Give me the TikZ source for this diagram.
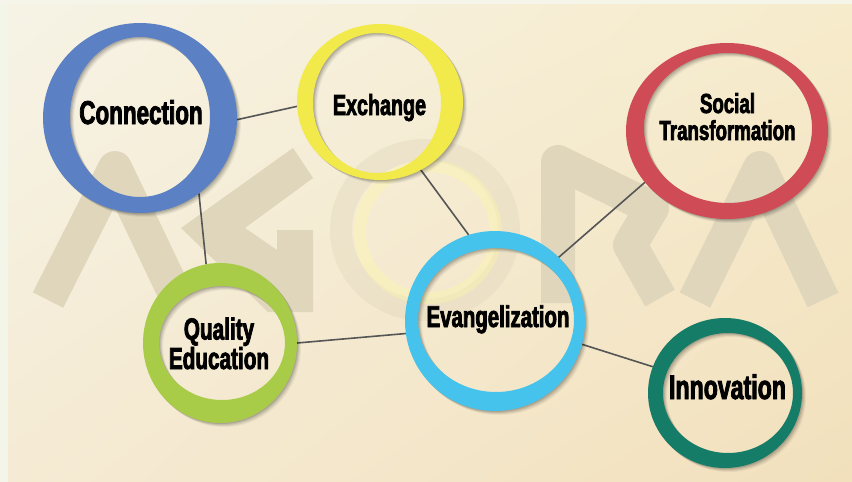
\documentclass[tikz,border=0pt]{standalone}
\usepackage{fontspec}
\usetikzlibrary{shapes.geometric,shadings}
\newfontfamily\lblfont{Liberation Sans}[FakeStretch=0.68,BoldFeatures={FakeBold=2.5}]
\definecolor{bgUL}{HTML}{F6F3E6}
\definecolor{bgUR}{HTML}{F6EBCB}
\definecolor{bgLL}{HTML}{F5EBD4}
\definecolor{bgLR}{HTML}{F2E0BC}
\definecolor{edgeL}{HTML}{F4F5E9}
\definecolor{edgeT}{HTML}{F6F5EA}
\definecolor{wmc}{HTML}{DFD6BC}
\definecolor{cblue}{HTML}{5B80C4}
\definecolor{cyellow}{HTML}{F2EA4A}
\definecolor{cred}{HTML}{CF4B56}
\definecolor{cgreen}{HTML}{A9CC48}
\definecolor{ccyan}{HTML}{45C3EC}
\definecolor{cteal}{HTML}{157C68}
\definecolor{lgray}{HTML}{555555}
\newcommand\myring[9]{%
  \foreach \s/\op in {4/0.05,3/0.07,2/0.09,1/0.11}{
    \fill[black,opacity=\op,even odd rule] (#2+\s,#3+\s) ellipse[x radius=#4pt,y radius=#5pt] (#6+\s,#7+\s) ellipse[x radius=#8pt,y radius=#9pt];}
  \fill[#1,even odd rule] (#2,#3) ellipse[x radius=#4pt,y radius=#5pt] (#6,#7) ellipse[x radius=#8pt,y radius=#9pt];
}
\tikzset{
  wm/.style={draw=wmc,line width=34pt,line join=round,line cap=butt},
  conline/.style={draw=lgray,line width=1.6pt},
  hub/.style={ellipse,inner sep=0pt,outer sep=0pt},
  lbl/.style={text=black,inner sep=0pt,align=center}
}
\begin{document}
\begin{tikzpicture}[x=1pt,y=-1pt]
\useasboundingbox (0,0) rectangle (852,482);
% background
\shade[upper left=bgUL,upper right=bgUR,lower left=bgLL,lower right=bgLR] (0,0) rectangle (852,482);
\fill[edgeL] (0,0) rectangle (8,482);
\fill[edgeT] (0,0) rectangle (852,4);
% watermark AGORA
\draw[wm] (48,300) -- (115,168) -- (178,300);
\fill[wmc] (181,228) -- (293,148) -- (313,178) -- (245,228) -- (277,250) -- (277,230)
  -- (313,230) -- (313,312) -- (268,312) -- cycle;
\draw[draw=wmc,line width=22pt,opacity=0.38] (425,230) ellipse[x radius=84pt,y radius=80pt];
\draw[draw=yellow!35,line width=12pt,opacity=0.35] (428,232) ellipse[x radius=68pt,y radius=66pt];
\draw[wm] (558,303) -- (558,162) -- (652,208) -- (630,245) -- (660,298);
\draw[wm] (695,300) -- (760,168) -- (823,300);
% hub nodes (outer rings)
\node[hub,minimum width=194pt,minimum height=190pt] (conn) at (140,118) {};
\node[hub,minimum width=166pt,minimum height=156pt] (exch) at (380,102) {};
\node[hub,minimum width=202pt,minimum height=176pt] (soc) at (727,131) {};
\node[hub,minimum width=154pt,minimum height=160pt] (qual) at (220,343) {};
\node[hub,minimum width=180pt,minimum height=180pt] (evan) at (495,321) {};
\node[hub,minimum width=154pt,minimum height=150pt] (inno) at (725,393) {};
% connectors
\draw[conline] (conn.-1) -- (exch.183);
\draw[conline] (conn.-52) -- (qual.100);
\draw[conline] (exch.-59) -- (evan.107);
\draw[conline] (evan.45) -- (soc.212);
\draw[conline] (qual.0) -- (evan.188);
\draw[conline] (evan.-15) -- (inno.160);
% rings
\myring{cblue}{140}{118}{97}{95}{140}{117}{70}{80}
\myring{cyellow}{380}{102}{83}{78}{377}{103}{64}{70}
\myring{cred}{727}{131}{101}{88}{728}{128}{84}{75}
\myring{cgreen}{220}{343}{77}{80}{222}{343}{63}{57}
\myring{ccyan}{495}{321}{90}{90}{496}{320}{78}{72}
\myring{cteal}{725}{393}{77}{75}{728}{393}{65}{60}
% labels
\node[lbl,anchor=base,font=\lblfont\bfseries\fontsize{33}{33}\selectfont] (tconn) at (141,124) {Connection};
\node[lbl,anchor=base,font=\lblfont\bfseries\fontsize{29}{29}\selectfont] (texch) at (379.5,115) {Exchange};
\node[lbl,anchor=base,font=\lblfont\bfseries\fontsize{27.5}{27}\selectfont] (tsoc) at (727.5,140) {Social\\Transformation};
\node[lbl,anchor=base,font=\lblfont\bfseries\fontsize{30.5}{28}\selectfont] (tqual) at (219,369) {Quality\\Education};
\node[lbl,anchor=base,font=\lblfont\bfseries\fontsize{30}{30}\selectfont] (tevan) at (498,327) {Evangelization};
\node[lbl,anchor=base,font=\lblfont\bfseries\fontsize{34}{34}\selectfont] (tinno) at (727.5,399) {Innovation};
\end{tikzpicture}
\end{document}
